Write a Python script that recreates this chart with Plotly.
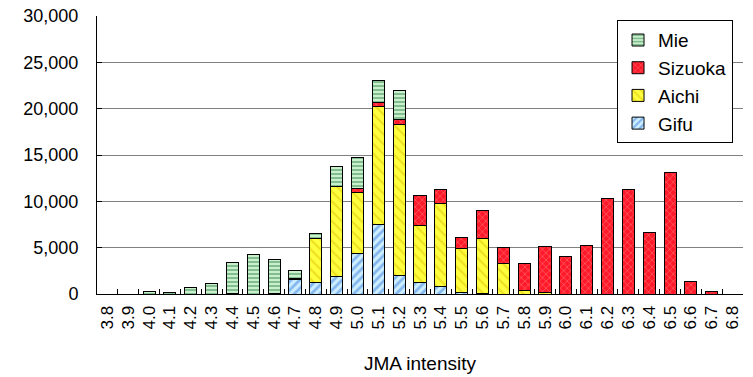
import plotly.graph_objects as go

categories = ["3.8","3.9","4.0","4.1","4.2","4.3","4.4","4.5","4.6","4.7","4.8","4.9",
              "5.0","5.1","5.2","5.3","5.4","5.5","5.6","5.7","5.8","5.9",
              "6.0","6.1","6.2","6.3","6.4","6.5","6.6","6.7","6.8"]

gifu =    [0,0,0,0,0,0,100,0,100,1600,1200,1900,4400,7500,2000,1200,800,200,100,0,0,0,0,0,0,0,0,0,0,0,0]
aichi =   [0,0,0,0,0,0,0,0,0,100,4800,9700,6600,12700,16300,6200,9000,4700,5900,3300,400,200,0,0,0,0,0,0,0,0,0]
sizuoka = [0,0,0,0,0,0,0,0,0,0,0,0,400,500,500,3200,1500,1200,3000,1700,2900,4900,4100,5200,10300,11300,6600,13100,1400,300,0]
mie =     [0,0,300,150,700,1100,3300,4300,3600,800,500,2200,3300,2300,3200,0,0,0,0,0,0,0,0,0,0,0,0,0,0,0,0]

FONT = "Liberation Sans, Arial, sans-serif"

fig = go.Figure()
fig.add_trace(go.Bar(name="Gifu", x=categories, y=gifu,
                     marker=dict(color="#bfe6ff", line=dict(color="black", width=1),
                                 pattern=dict(shape="/", fgcolor="#3b7ddd", bgcolor="#cceeff", size=6, solidity=0.45))))
fig.add_trace(go.Bar(name="Aichi", x=categories, y=aichi,
                     marker=dict(color="#ffff33", line=dict(color="black", width=1),
                                 pattern=dict(shape="\\", fgcolor="#d9c000", bgcolor="#ffff40", size=7, solidity=0.3))))
fig.add_trace(go.Bar(name="Sizuoka", x=categories, y=sizuoka,
                     marker=dict(color="#ff1a2a", line=dict(color="black", width=1),
                                 pattern=dict(shape="x", fgcolor="#ff9090", bgcolor="#ff1a2a", size=5, solidity=0.3))))
fig.add_trace(go.Bar(name="Mie", x=categories, y=mie,
                     marker=dict(color="#9fe0a8", line=dict(color="black", width=1),
                                 pattern=dict(shape="-", fgcolor="#2e7d45", bgcolor="#c8f0cc", size=4, solidity=0.45))))

fig.update_layout(
    barmode="stack",
    bargap=0.42,
    width=753, height=377,
    margin=dict(l=97, r=10, t=16, b=83),
    paper_bgcolor="white", plot_bgcolor="white",
    font=dict(family=FONT, size=18, color="black"),
    legend=dict(traceorder="reversed", x=0.805, y=0.985, xanchor="left", yanchor="top",
                bgcolor="white", bordercolor="black", borderwidth=1,
                font=dict(size=19, family=FONT), itemwidth=30, tracegroupgap=0),
    showlegend=True,
)
fig.update_xaxes(
    type="category", tickangle=-90, ticks="inside", tickson="boundaries", ticklen=5,
    tickcolor="black", showline=True, linecolor="black", linewidth=1,
    title=dict(text="JMA intensity", font=dict(size=19, family=FONT), standoff=28),
    tickfont=dict(size=17, family=FONT), ticklabelstandoff=4, automargin=False,
)
fig.update_yaxes(
    range=[0, 30000], dtick=5000, tickformat=",", ticks="inside", ticklen=5,
    tickcolor="black", showline=True, linecolor="black", linewidth=1,
    showgrid=True, gridcolor="#808080", gridwidth=1,
    tickfont=dict(size=18, family=FONT), zeroline=False, ticklabelstandoff=14,
    automargin=False,
)

fig.write_html("out.html")
